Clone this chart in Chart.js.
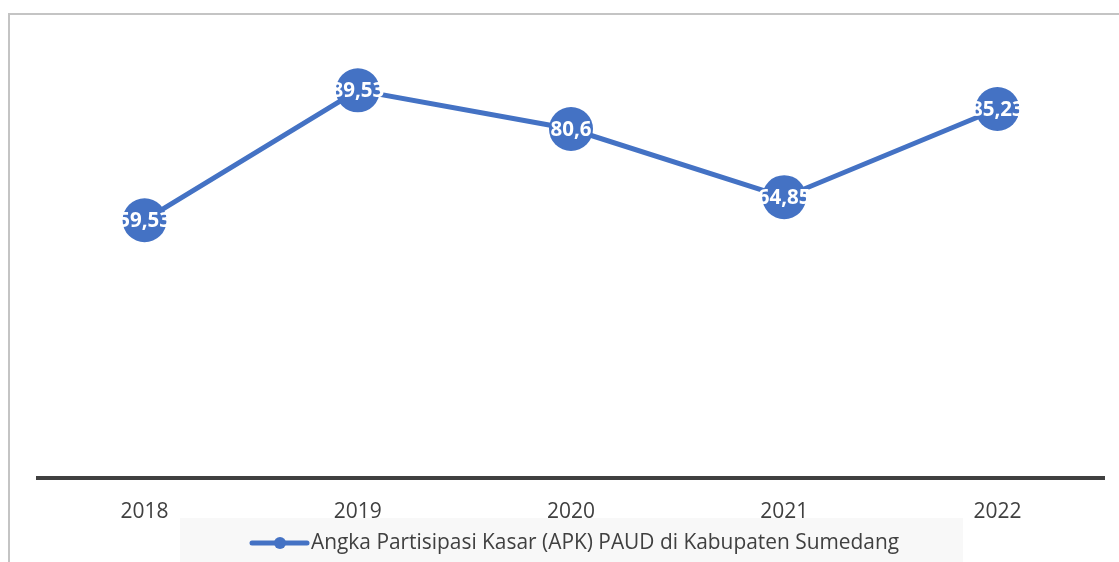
<!DOCTYPE html>
<html>
<head>
<meta charset="utf-8">
<script src="https://cdn.jsdelivr.net/npm/chart.js@4.4.1/dist/chart.umd.min.js"></script>
<style>
  html, body { margin: 0; padding: 0; background: #fff; overflow: hidden; }
  #wrap { width: 1119px; height: 562px; position: relative; }
  canvas { display: block; }
</style>
</head>
<body>
<div id="wrap"><canvas id="linechart"></canvas></div>
<script>
const years = ['2018', '2019', '2020', '2021', '2022'];
const apkValues = [59.53, 89.53, 80.6, 64.85, 85.23];
const apkLabels = ['59,53', '89,53', '80,6', '64,85', '85,23'];
const seriesName = 'Angka Partisipasi Kasar (APK) PAUD di Kabupaten Sumedang';

const blue = '#4472c4';
const textGrey = '#404040';

// grey frame + legend strip, drawn behind the chart
const framePlugin = {
    id: 'frame',
    beforeDraw(chart) {
        const c = chart.ctx;
        c.save();
        c.fillStyle = '#f8f8f8';
        c.fillRect(180, 518, 783, 44);
        c.strokeStyle = '#c4c4c4';
        c.lineWidth = 2;
        c.beginPath();
        c.moveTo(9, 562);
        c.lineTo(9, 14);
        c.lineTo(1119, 14);
        c.stroke();
        c.restore();
    },
    afterDraw(chart) {
        const c = chart.ctx;
        c.save();
        // legend marker
        c.strokeStyle = blue;
        c.lineWidth = 5;
        c.lineCap = 'round';
        c.beginPath();
        c.moveTo(252, 543);
        c.lineTo(307, 543);
        c.stroke();
        c.fillStyle = blue;
        c.beginPath();
        c.arc(280, 543, 6, 0, Math.PI * 2);
        c.fill();
        c.fillStyle = textGrey;
        c.font = '20.9px "Open Sans"';
        c.textBaseline = 'middle';
        c.textAlign = 'left';
        c.fillText(seriesName, 311, 543);
        c.restore();
    }
};

// white value labels inside the markers
const valueLabels = {
    id: 'valueLabels',
    afterDatasetsDraw(chart) {
        const c = chart.ctx;
        const meta = chart.getDatasetMeta(0);
        c.save();
        c.fillStyle = '#ffffff';
        c.font = 'bold 20.5px "Open Sans"';
        c.textAlign = 'center';
        c.textBaseline = 'middle';
        meta.data.forEach((pt, i) => {
            c.fillText(apkLabels[i], pt.x, pt.y + 1);
        });
        c.restore();
    }
};

var ctx = document.getElementById('linechart').getContext('2d');

var chart = new Chart(ctx, {
    type: 'line',
    data: {
        labels: years,
        datasets: [{
            label: seriesName,
            data: apkValues,
            borderColor: blue,
            backgroundColor: blue,
            borderWidth: 5,
            pointRadius: 22,
            pointBorderWidth: 0,
            pointBackgroundColor: blue,
            tension: 0
        }]
    },
    options: {
        responsive: true,
        maintainAspectRatio: false,
        animation: false,
        layout: {
            autoPadding: false,
            padding: { left: 38, right: 15, top: 45, bottom: 44 }
        },
        plugins: {
            legend: { display: false },
            tooltip: { enabled: false }
        },
        scales: {
            x: {
                offset: true,
                grid: { display: false, drawTicks: false },
                border: { display: true, color: '#404040', width: 4 },
                ticks: {
                    color: textGrey,
                    font: { family: 'Open Sans', size: 21 },
                    padding: 21
                },
                afterFit(s) {
                    s.height = 40;
                    s.paddingLeft = 0;
                    s.paddingRight = 0;
                }
            },
            y: {
                display: false,
                min: 0,
                max: 100
            }
        }
    },
    plugins: [framePlugin, valueLabels]
});
</script>
</body>
</html>
